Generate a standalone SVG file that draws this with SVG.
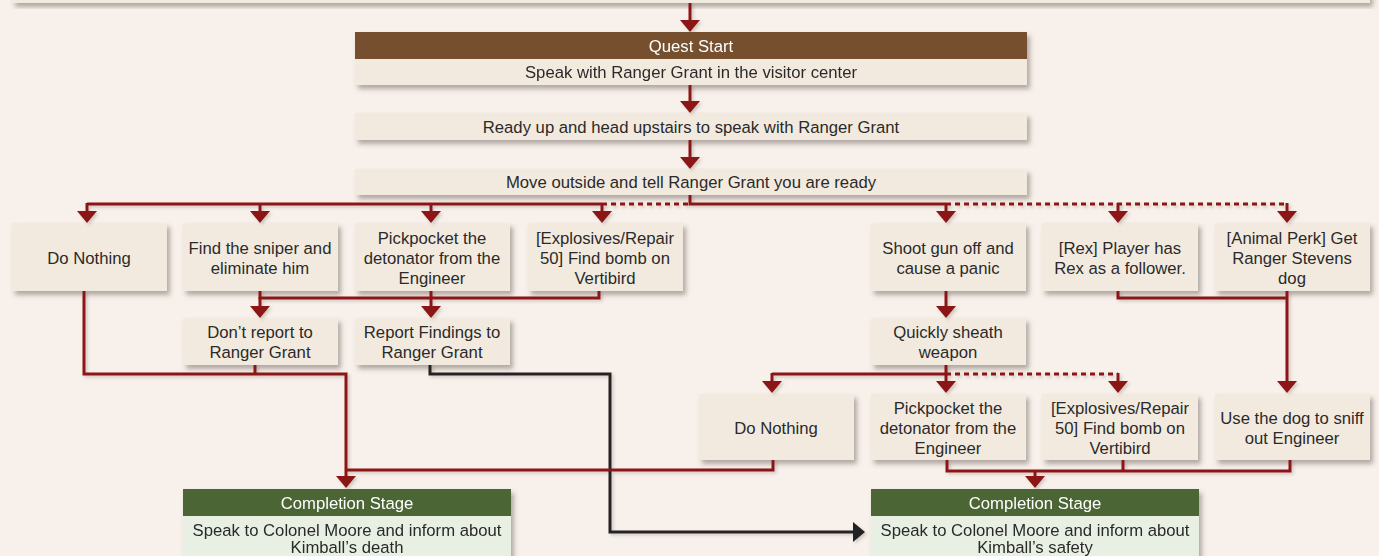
<svg xmlns="http://www.w3.org/2000/svg" width="1379" height="556" viewBox="0 0 1379 556">
<defs>
<filter id="sh" x="-10%" y="-20%" width="130%" height="160%">
<feDropShadow dx="3" dy="4" stdDeviation="2.5" flood-color="#5a5048" flood-opacity="0.45"/>
</filter>
<filter id="lsh" x="-5%" y="-5%" width="110%" height="110%">
<feDropShadow dx="2" dy="2" stdDeviation="1.5" flood-color="#5a5048" flood-opacity="0.25"/>
</filter>
<marker id="ar" markerUnits="userSpaceOnUse" viewBox="0 -10 12 20" markerWidth="12" markerHeight="20" refX="2" refY="0" orient="auto">
<path d="M0,-10 L12,0 L0,10 z" fill="#8c1518"/>
</marker>
<marker id="ab" markerUnits="userSpaceOnUse" viewBox="0 -10 12 20" markerWidth="12" markerHeight="20" refX="2" refY="0" orient="auto">
<path d="M0,-10 L12,0 L0,10 z" fill="#222"/>
</marker>
<style>
.bg{fill:#f8f1eb}
.box{fill:#f3eadf;filter:url(#sh)}
.hdrB{fill:#744f2e}
.hdrG{fill:#4b6536}
.gbody{fill:#e8f0e4}
.t{font-family:"Liberation Sans",Arial,sans-serif;font-size:16.7px;fill:#2a2a2a;text-anchor:middle}
.th{font-family:"Liberation Sans",Arial,sans-serif;font-size:16.7px;fill:#ffffff;text-anchor:middle}
.r{fill:none;stroke:#8c1518;stroke-width:3}
.rd{fill:none;stroke:#8c1518;stroke-width:3;stroke-dasharray:5 4}
.k{fill:none;stroke:#222;stroke-width:3}
.ra{marker-end:url(#ar)}
</style>
</defs>
<rect class="bg" x="0" y="0" width="1379" height="556"/>

<g id="intro"><rect class="box" x="12" y="-10" width="1358" height="13"/></g>

<g id="quest-start" filter="url(#sh)">
<rect class="hdrB" x="355" y="32" width="672" height="27"/>
<rect fill="#f3eadf" x="355" y="59" width="672" height="26"/>
<text class="th" x="691" y="52">Quest Start</text>
<text class="t" x="691" y="78">Speak with Ranger Grant in the visitor center</text>
</g>

<g id="ready-up"><rect class="box" x="355" y="113" width="672" height="27"/><text class="t" x="691" y="133">Ready up and head upstairs to speak with Ranger Grant</text></g>
<g id="move-outside"><rect class="box" x="355" y="169" width="672" height="26"/><text class="t" x="691" y="188">Move outside and tell Ranger Grant you are ready</text></g>

<g id="do-nothing-1"><rect class="box" x="12" y="223" width="155" height="68"/><text class="t" x="89" y="264">Do Nothing</text></g>
<g id="find-sniper"><rect class="box" x="183" y="223" width="155" height="68"/><text class="t" x="260" y="254">Find the sniper and</text><text class="t" x="260" y="274">eliminate him</text></g>
<g id="pickpocket-1"><rect class="box" x="355" y="223" width="155" height="68"/><text class="t" x="432" y="244">Pickpocket the</text><text class="t" x="432" y="264">detonator from the</text><text class="t" x="432" y="284">Engineer</text></g>
<g id="explosives-1"><rect class="box" x="528" y="223" width="155" height="68"/><text class="t" x="605" y="244">[Explosives/Repair</text><text class="t" x="605" y="264">50] Find bomb on</text><text class="t" x="605" y="284">Vertibird</text></g>
<g id="shoot-gun"><rect class="box" x="871" y="223" width="155" height="68"/><text class="t" x="948" y="254">Shoot gun off and</text><text class="t" x="948" y="274">cause a panic</text></g>
<g id="rex"><rect class="box" x="1042" y="223" width="156" height="68"/><text class="t" x="1120" y="254">[Rex] Player has</text><text class="t" x="1120" y="274">Rex as a follower.</text></g>
<g id="animal-perk"><rect class="box" x="1215" y="223" width="155" height="68"/><text class="t" x="1292" y="244">[Animal Perk] Get</text><text class="t" x="1292" y="264">Ranger Stevens</text><text class="t" x="1292" y="284">dog</text></g>

<g id="dont-report"><rect class="box" x="183" y="318" width="155" height="47"/><text class="t" x="260" y="338">Don’t report to</text><text class="t" x="260" y="358">Ranger Grant</text></g>
<g id="report-findings"><rect class="box" x="355" y="318" width="155" height="47"/><text class="t" x="432" y="338">Report Findings to</text><text class="t" x="432" y="358">Ranger Grant</text></g>
<g id="sheath"><rect class="box" x="871" y="318" width="155" height="47"/><text class="t" x="948" y="338">Quickly sheath</text><text class="t" x="948" y="358">weapon</text></g>

<g id="do-nothing-2"><rect class="box" x="699" y="394" width="155" height="66"/><text class="t" x="776" y="434">Do Nothing</text></g>
<g id="pickpocket-2"><rect class="box" x="871" y="394" width="155" height="66"/><text class="t" x="948" y="414">Pickpocket the</text><text class="t" x="948" y="434">detonator from the</text><text class="t" x="948" y="454">Engineer</text></g>
<g id="explosives-2"><rect class="box" x="1042" y="394" width="156" height="66"/><text class="t" x="1120" y="414">[Explosives/Repair</text><text class="t" x="1120" y="434">50] Find bomb on</text><text class="t" x="1120" y="454">Vertibird</text></g>
<g id="sniff"><rect class="box" x="1215" y="394" width="155" height="66"/><text class="t" x="1292" y="424">Use the dog to sniff</text><text class="t" x="1292" y="444">out Engineer</text></g>

<g id="completion-death" filter="url(#sh)">
<rect class="hdrG" x="183" y="489" width="328" height="27"/>
<rect class="gbody" x="183" y="516" width="328" height="50"/>
<text class="th" x="347" y="509">Completion Stage</text>
<text class="t" x="347" y="536">Speak to Colonel Moore and inform about</text>
<text class="t" x="347" y="553">Kimball’s death</text>
</g>
<g id="completion-safety" filter="url(#sh)">
<rect class="hdrG" x="871" y="489" width="328" height="27"/>
<rect class="gbody" x="871" y="516" width="328" height="50"/>
<text class="th" x="1035" y="509">Completion Stage</text>
<text class="t" x="1035" y="536">Speak to Colonel Moore and inform about</text>
<text class="t" x="1035" y="553">Kimball’s safety</text>
</g>

<g id="connectors" filter="url(#lsh)">
<path class="r ra" d="M690,3 V22"/>
<path class="r ra" d="M690,85 V103"/>
<path class="r ra" d="M690,140 V159"/>
<path class="r" d="M690,195 V204 H946"/>
<path class="r" d="M87,204 H602"/>
<path class="rd" d="M602,204 H690"/>
<path class="rd" d="M946,204 H1287"/>
<path class="r ra" d="M87,203 V213"/>
<path class="r ra" d="M260,203 V213"/>
<path class="r ra" d="M431,203 V213"/>
<path class="r ra" d="M602,203 V213"/>
<path class="r ra" d="M946,203 V213"/>
<path class="r ra" d="M1118,203 V213"/>
<path class="r ra" d="M1287,203 V213"/>

<path class="r" d="M260,291 V298 H599 V291"/>
<path class="r" d="M431,291 V298"/>
<path class="r ra" d="M260,297 V308"/>
<path class="r ra" d="M431,297 V308"/>

<path class="r" d="M255,365 V374"/>
<path class="r ra" d="M84,291 V374 H346 V478"/>
<path class="k" d="M430,365 V374 H610 V532 H855" marker-end="url(#ab)"/>

<path class="r ra" d="M946,291 V308"/>
<path class="r" d="M1118,291 V298 H1287"/>
<path class="r ra" d="M1287,291 V383"/>

<path class="r" d="M946,365 V374 H772"/>
<path class="rd" d="M946,374 H1118"/>
<path class="r ra" d="M772,373 V383"/>
<path class="r ra" d="M946,373 V383"/>
<path class="r ra" d="M1118,373 V383"/>

<path class="r" d="M773,460 V470 H346"/>
<path class="r" d="M947,460 V471 H1290 V460"/>
<path class="r" d="M1123,460 V471"/>
<path class="r ra" d="M1035,470 V478"/>
</g>
</svg>
